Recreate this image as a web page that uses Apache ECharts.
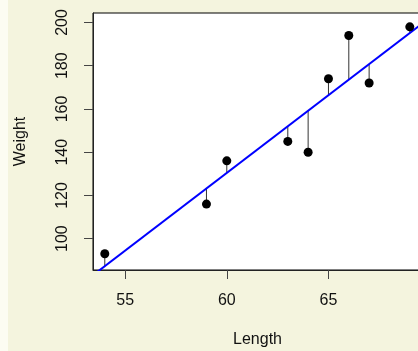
<!DOCTYPE html>
<html>
<head>
<meta charset="utf-8">
<script src="https://cdn.jsdelivr.net/npm/echarts@6/dist/echarts.min.js"></script>
<style>
html,body{margin:0;padding:0;background:#F4F4DE;}
#c{width:418px;height:351px;}
</style>
</head>
<body>
<div id="c"></div>
<script>
const lengths = [54, 59, 60, 63, 64, 65, 66, 67, 69];
const weights = [93, 116, 136, 145, 140, 174, 194, 172, 198];
const xTicks = [55, 60, 65];
const yTicks = [100, 120, 140, 160, 180, 200];
const xRange = [53.42, 69.6];
const yRange = [85.5, 204.4];

// least squares fit (as drawn by abline(lm(...)))
const n = lengths.length;
const mx = lengths.reduce((a, b) => a + b, 0) / n;
const my = weights.reduce((a, b) => a + b, 0) / n;
let sxy = 0, sxx = 0;
for (let i = 0; i < n; i++) { sxy += (lengths[i] - mx) * (weights[i] - my); sxx += (lengths[i] - mx) ** 2; }
const slope = sxy / sxx;
const intercept = my - slope * mx;
const fitted = lengths.map(x => intercept + slope * x);

const points = lengths.map((x, i) => [x, weights[i]]);
const resid = lengths.map((x, i) => [x, weights[i], fitted[i]]);
const lineData = xRange.map(x => [x, intercept + slope * x]);

const font = 'Liberation Sans, Arial, sans-serif';
const chart = echarts.init(document.getElementById('c'));
chart.setOption({
  backgroundColor: '#F4F4DE',
  animation: false,
  graphic: [{ type: 'rect', shape: { x: 0, y: 0, width: 8, height: 351 }, style: { fill: '#FCFCF2' }, z: -10 }],
  grid: { left: 93, top: 13, width: 329, height: 257, outerBoundsMode: 'none', containLabel: false, show: true, backgroundColor: '#fff', borderColor: '#000', borderWidth: 1 },
  xAxis: {
    type: 'value', min: xRange[0], max: xRange[1],
    name: 'Length', nameLocation: 'middle', nameGap: 62,
    nameTextStyle: { fontFamily: font, fontSize: 16, color: '#111' },
    axisLine: { show: true, lineStyle: { color: '#222', width: 1 } },
    axisTick: { show: true, length: 9, lineStyle: { color: '#444' }, customValues: xTicks },
    axisLabel: { fontFamily: font, fontSize: 16, color: '#111', margin: 23, customValues: xTicks },
    splitLine: { show: false }
  },
  yAxis: {
    type: 'value', min: yRange[0], max: yRange[1],
    name: 'Weight', nameLocation: 'middle', nameGap: 64,
    nameTextStyle: { fontFamily: font, fontSize: 16, color: '#111' },
    axisLine: { show: true, lineStyle: { color: '#222', width: 1 } },
    axisTick: { show: true, length: 9, lineStyle: { color: '#444' }, customValues: yTicks },
    axisLabel: { fontFamily: font, fontSize: 16, color: '#111', margin: 22, rotate: 90, customValues: yTicks },
    splitLine: { show: false }
  },
  series: [
    {
      type: 'custom', data: resid, z: 1, silent: true,
      renderItem: function (params, api) {
        const p1 = api.coord([api.value(0), api.value(1)]);
        const p2 = api.coord([api.value(0), api.value(2)]);
        return { type: 'line', shape: { x1: p1[0], y1: p1[1], x2: p2[0], y2: p2[1] }, style: { stroke: '#333', lineWidth: 1 } };
      }
    },
    {
      type: 'line', data: lineData, symbol: 'none', z: 2, clip: true,
      lineStyle: { color: '#0000FF', width: 2 }
    },
    {
      type: 'scatter', data: points, symbol: 'circle', symbolSize: 9, z: 3,
      itemStyle: { color: '#000', opacity: 1 }
    }
  ]
});
</script>
</body>
</html>
